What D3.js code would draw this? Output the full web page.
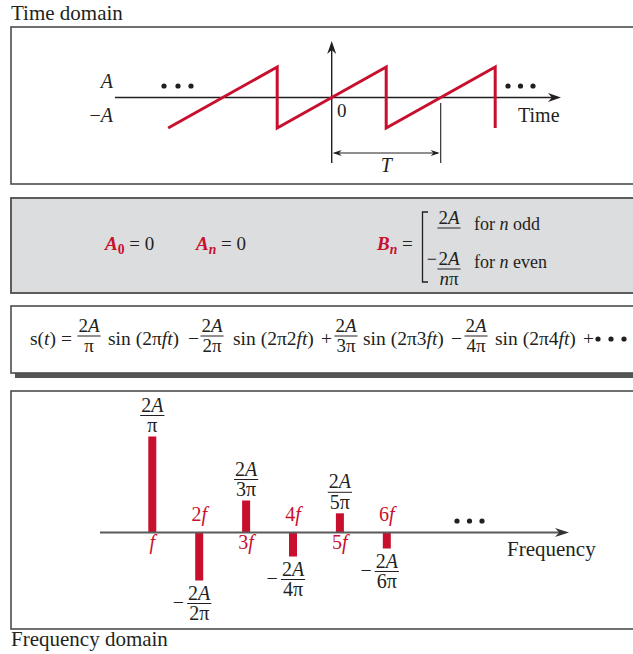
<!DOCTYPE html>
<html><head><meta charset="utf-8">
<script src="https://cdn.jsdelivr.net/npm/d3@7"></script>
<style>
body{margin:0;background:#fff}
svg{display:block}
text{font-family:"Liberation Serif","Times New Roman",serif;fill:#231f20}
</style>
</head><body>
<svg id="c" width="633" height="654"></svg>
<script>
// Sawtooth wave: t in periods T, value in units of A
const sawT = [-1.5, -0.5, -0.5, 0.5, 0.5, 1.5, 1.5];
const sawV = [-1, 1, -1, 1, -1, 1, -1];

// Line spectrum: harmonic number, axis label, B_n (units of A), label denominator
const harmonicN = [1, 2, 3, 4, 5, 6];
const harmonicLabels = ["f", "2f", "3f", "4f", "5f", "6f"];
const harmonicAmp = [0.6366, -0.3183, 0.2122, -0.1592, 0.1273, -0.1061];
const ampDenominators = ["π", "2π", "3π", "4π", "5π", "6π"];

const RED = "#c8102e", INK = "#231f20", FRAME = "#4d4d4d";
const svg = d3.select("#c");

// ---------- helpers ----------
function rich(g, x, y, parts, o = {}) {
  const size = o.size || 18;
  const t = g.append("text").attr("x", x).attr("y", y)
    .attr("font-size", size)
    .attr("text-anchor", o.anchor || "start");
  parts.forEach(p => {
    const [s, st] = Array.isArray(p) ? p : [p, ""];
    const ts = t.append("tspan").text(s);
    if (st.includes("i")) ts.attr("font-style", "italic");
    if (st.includes("b")) ts.attr("font-weight", "bold");
    if (st.includes("r")) ts.style("fill", RED);
    if (st.includes("s")) ts.attr("baseline-shift", "-28%").attr("font-size", size * 0.72);
  });
  if (o.fill) t.style("fill", o.fill);
  return t;
}
// stacked fraction centred on cx, bar at yBar
function frac(g, cx, yBar, num, den, o = {}) {
  const size = o.size || 20;
  const n = rich(g, cx, yBar - 4, num, {size, anchor: "middle"});
  let w = n.node().getComputedTextLength();
  if (den) {
    const d = rich(g, cx, yBar + size * 0.82, den, {size, anchor: "middle"});
    w = Math.max(w, d.node().getComputedTextLength());
  }
  g.append("line").attr("x1", cx - w / 2 - 1).attr("x2", cx + w / 2 + 1)
    .attr("y1", yBar).attr("y2", yBar).attr("stroke", INK).attr("stroke-width", 1);
  return w;
}
function arrow(g, x, y, angle, len, hw, fill) {
  const p = d3.path();
  p.moveTo(0, 0); p.lineTo(-len, -hw); p.lineTo(-len * 0.7, 0); p.lineTo(-len, hw); p.closePath();
  g.append("path").attr("d", p.toString())
    .attr("transform", `translate(${x},${y}) rotate(${angle})`).attr("fill", fill || INK);
}
function dots(g, xs, y, r) {
  xs.forEach(x => g.append("circle").attr("cx", x).attr("cy", y).attr("r", r).attr("fill", INK));
}

// ---------- panel frames ----------
svg.append("rect").attr("x", 11).attr("y", 27).attr("width", 700).attr("height", 157)
  .attr("fill", "#fff").attr("stroke", FRAME).attr("stroke-width", 1.6);
svg.append("rect").attr("x", 11).attr("y", 198).attr("width", 700).attr("height", 95)
  .attr("fill", "#dcdddf").attr("stroke", FRAME).attr("stroke-width", 1.8);
svg.append("rect").attr("x", 15).attr("y", 310).attr("width", 700).attr("height", 68).attr("fill", "#555");
svg.append("rect").attr("x", 11).attr("y", 306).attr("width", 700).attr("height", 67)
  .attr("fill", "#fff").attr("stroke", FRAME).attr("stroke-width", 1.6);
svg.append("rect").attr("x", 11).attr("y", 391).attr("width", 700).attr("height", 238)
  .attr("fill", "#fff").attr("stroke", FRAME).attr("stroke-width", 1.6);

rich(svg, 11, 20, ["Time domain"], {size: 21});
rich(svg, 11, 646, ["Frequency domain"], {size: 21});

// ---------- time domain ----------
const gt = svg.append("g");
const xt = d3.scaleLinear().domain([0, 1]).range([331.7, 440.7]);
const yt = d3.scaleLinear().domain([-1, 1]).range([128, 67]);
const y0 = yt(0);

gt.append("line").attr("x1", 115).attr("x2", 556).attr("y1", y0).attr("y2", y0)
  .attr("stroke", INK).attr("stroke-width", 1.4);
arrow(gt, 561, y0, 0, 13, 4.5);
gt.append("line").attr("x1", xt(0)).attr("x2", xt(0)).attr("y1", 163).attr("y2", 46)
  .attr("stroke", INK).attr("stroke-width", 1.4);
arrow(gt, xt(0), 41, -90, 13, 4.5);

// period marker
gt.append("line").attr("x1", xt(1)).attr("x2", xt(1)).attr("y1", 103).attr("y2", 163)
  .attr("stroke", INK).attr("stroke-width", 1.1);
gt.append("line").attr("x1", xt(0) + 3).attr("x2", xt(1) - 3).attr("y1", 153).attr("y2", 153)
  .attr("stroke", INK).attr("stroke-width", 1.1);
arrow(gt, xt(0) + 1, 153, 180, 9, 3);
arrow(gt, xt(1) - 1, 153, 0, 9, 3);
rich(gt, (xt(0) + xt(1)) / 2, 172, [["T", "i"]], {size: 20, anchor: "middle"});

const sawLine = d3.line().x(d => xt(d[0])).y(d => yt(d[1]));
gt.append("path").datum(sawT.map((t, i) => [t, sawV[i]]))
  .attr("d", sawLine).attr("fill", "none").attr("stroke", RED)
  .attr("stroke-width", 3).attr("stroke-linejoin", "miter");

rich(gt, 113, 88, [["A", "i"]], {size: 20, anchor: "end"});
rich(gt, 113, 122, ["−", ["A", "i"]], {size: 20, anchor: "end"});
rich(gt, 337, 117, ["0"], {size: 19});
rich(gt, 518, 122, ["Time"], {size: 20});
dots(gt, [164, 178, 191], 86, 2.6);
dots(gt, [508, 520.5, 533], 86, 2.6);

// ---------- Fourier coefficients ----------
const gc = svg.append("g");
rich(gc, 105, 250, [["A", "bir"], ["0", "bsr"], " = 0"], {size: 19});
rich(gc, 196, 250, [["A", "bir"], ["n", "bisr"], " = 0"], {size: 19});
rich(gc, 377, 250, [["B", "bir"], ["n", "bisr"], " ="], {size: 19});
gc.append("path").attr("d", "M428,212H422.5V282H428").attr("fill", "none")
  .attr("stroke", INK).attr("stroke-width", 1.3);
frac(gc, 449, 228, ["2", ["A", "i"]], null, {size: 19});
rich(gc, 474, 230, ["for ", ["n", "i"], " odd"], {size: 18});
rich(gc, 437, 265, ["−"], {size: 18, anchor: "end"});
frac(gc, 449, 269, ["2", ["A", "i"]], [["n", "i"], "π"], {size: 19});
rich(gc, 474, 268, ["for ", ["n", "i"], " even"], {size: 18});

// ---------- Fourier series ----------
const gs = svg.append("g");
const fb = 336, sb = 345, fs = 19.5, ff = 19;
rich(gs, 30, sb, ["s(", ["t", "i"], ") ="], {size: fs});
frac(gs, 89, fb, ["2", ["A", "i"]], ["π"], {size: ff});
rich(gs, 108, sb, ["sin (2π", ["ft", "i"], ")"], {size: fs});
rich(gs, 188, sb, ["−"], {size: fs});
frac(gs, 212, fb, ["2", ["A", "i"]], ["2π"], {size: ff});
rich(gs, 233, sb, ["sin (2π2", ["ft", "i"], ")"], {size: fs});
rich(gs, 321, sb, ["+"], {size: fs});
frac(gs, 346, fb, ["2", ["A", "i"]], ["3π"], {size: ff});
rich(gs, 363, sb, ["sin (2π3", ["ft", "i"], ")"], {size: fs});
rich(gs, 451, sb, ["−"], {size: fs});
frac(gs, 476, fb, ["2", ["A", "i"]], ["4π"], {size: ff});
rich(gs, 495, sb, ["sin (2π4", ["ft", "i"], ")"], {size: fs});
rich(gs, 583, sb, ["+"], {size: fs});
dots(gs, [598, 611, 624], 339, 2.6);

// ---------- frequency domain ----------
const gf = svg.append("g");
const xf = d3.scaleLinear().domain([1, 6]).range([152.3, 386.8]);
const yf = d3.scaleLinear().domain([0, harmonicAmp[0]]).range([532.5, 436.5]);
const ya = yf(0);

gf.selectAll("rect.bar").data(harmonicN).join("rect").attr("class", "bar")
  .attr("x", n => xf(n) - 4).attr("width", 8)
  .attr("y", (n, i) => Math.min(yf(harmonicAmp[i]), ya))
  .attr("height", (n, i) => Math.abs(yf(harmonicAmp[i]) - ya))
  .attr("fill", RED);

gf.append("line").attr("x1", 100).attr("x2", 563).attr("y1", ya).attr("y2", ya)
  .attr("stroke", "#5a5a5a").attr("stroke-width", 2);
arrow(gf, 569, ya, 0, 14, 4.5, "#333");

harmonicN.forEach((n, i) => {
  const v = harmonicAmp[i], cx = xf(n);
  const lab = harmonicLabels[i];
  const parts = lab.length > 1 ? [lab.slice(0, -1), ["f", "i"]] : [["f", "i"]];
  if (v > 0) {
    rich(gf, cx, 549, parts, {size: 20, anchor: "middle", fill: RED});
    frac(gf, cx, yf(v) - 21, ["2", ["A", "i"]], [ampDenominators[i]]);
  } else {
    rich(gf, cx, 521, parts, {size: 20, anchor: "middle", fill: RED});
    const bar = yf(v) + 23;
    const w = frac(gf, cx, bar, ["2", ["A", "i"]], [ampDenominators[i]]);
    rich(gf, cx - w / 2 - 4, bar + 5, ["−"], {size: 20, anchor: "end"});
  }
});

dots(gf, [457, 469.5, 482], 521, 2.6);
rich(gf, 507, 556, ["Frequency"], {size: 21});
</script>
</body></html>
